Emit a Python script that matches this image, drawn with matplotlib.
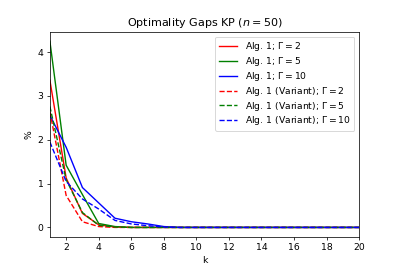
import numpy as np
import matplotlib
matplotlib.use("Agg")
import matplotlib.pyplot as plt

k = np.arange(1, 21)

# optimality gaps (%) per iteration k
alg_g2 = [3.36, 1.13, 0.32, 0.06, 0.01] + [0.0] * 15
alg_g5 = [4.25, 1.42, 0.75, 0.09, 0.02, 0.0] + [0.0] * 14
alg_g10 = [2.56, 1.83, 0.91, 0.56, 0.21, 0.13, 0.08, 0.02] + [0.0] * 12
var_g2 = [2.64, 0.73, 0.13, 0.02] + [0.0] * 16
var_g5 = [2.76, 1.09, 0.34, 0.05, 0.01] + [0.0] * 15
var_g10 = [1.95, 1.05, 0.65, 0.42, 0.16, 0.08, 0.04, 0.01] + [0.0] * 12

fig, ax = plt.subplots(figsize=(6, 4), dpi=66.5)
ax.plot(k, alg_g2, 'r-', label=r'Alg. 1; $\Gamma = 2$')
ax.plot(k, alg_g5, 'g-', label=r'Alg. 1; $\Gamma = 5$')
ax.plot(k, alg_g10, 'b-', label=r'Alg. 1; $\Gamma = 10$')
ax.plot(k, var_g2, 'r--', label=r'Alg. 1 (Variant); $\Gamma = 2$')
ax.plot(k, var_g5, 'g--', label=r'Alg. 1 (Variant); $\Gamma = 5$')
ax.plot(k, var_g10, 'b--', label=r'Alg. 1 (Variant); $\Gamma = 10$')

ax.set_xlim(1, 20)
ax.set_xticks(range(2, 21, 2))
ax.set_xlabel('k')
ax.set_ylabel('%')
ax.set_title(r'Optimality Gaps KP ($n = 50$)')
ax.legend(labelspacing=0.2)

plt.savefig('out.png', dpi=66.5)
